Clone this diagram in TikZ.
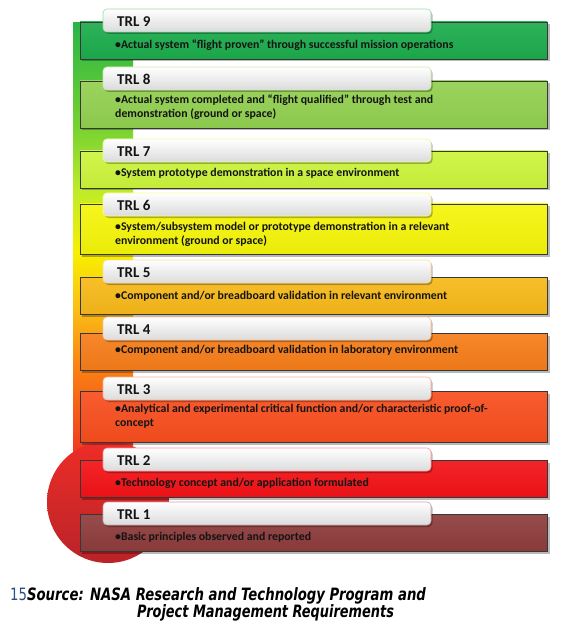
\documentclass[tikz,border=0pt]{standalone}
\usepackage{fontspec}
\setmainfont{Carlito}
\newfontfamily\srcfont{DejaVu Sans}
\definecolor{c9}{RGB}{28,172,76}
\definecolor{c8}{RGB}{146,208,80}
\definecolor{c7}{RGB}{204,245,60}
\definecolor{c6}{RGB}{245,245,10}
\definecolor{c5}{RGB}{247,185,25}
\definecolor{c4}{RGB}{246,125,25}
\definecolor{c3}{RGB}{248,78,30}
\definecolor{c2}{RGB}{243,18,22}
\definecolor{c1}{RGB}{142,60,60}
\definecolor{srcblue}{RGB}{40,80,130}
\definecolor{edgegray}{RGB}{55,55,55}
\pgfdeclareverticalshading{barshade}{100bp}{%
  color(0bp)=(rgb,255:red,230;green,30;blue,30);
  color(25bp)=(rgb,255:red,230;green,30;blue,30);
  color(31bp)=(rgb,255:red,240;green,65;blue,30);
  color(39bp)=(rgb,255:red,250;green,130;blue,20);
  color(45bp)=(rgb,255:red,250;green,190;blue,20);
  color(51bp)=(rgb,255:red,248;green,240;blue,0);
  color(57.5bp)=(rgb,255:red,190;green,235;blue,40);
  color(64bp)=(rgb,255:red,120;green,210;blue,50);
  color(75bp)=(rgb,255:red,40;green,180;blue,70);
  color(100bp)=(rgb,255:red,40;green,180;blue,70)}
\tikzset{
  mainrect/.style={draw=edgegray, line width=0.8pt},
  shadowrect/.style={fill=black, opacity=0.28},
  tabbox/.style={rounded corners=4pt, top color=white, bottom color=black!14, line width=0.6pt},
  lbl/.style={font=\fontsize{15}{16}\selectfont\bfseries, inner sep=0pt, anchor=base west, text=black!92},
  body/.style={font=\fontsize{11.8}{13}\selectfont\bfseries, inner sep=0pt, anchor=base west, text=black!92},
  src/.style={inner sep=0pt, anchor=base west}
}
\newcommand\levelbox[6]{%
  \fill[shadowrect] (82,{#3+2.5}) rectangle (550,{#4+2.5});
  \path[mainrect, top color=#5!92!white, bottom color=#5!96!black] (80,#3) rectangle (547,#4);
  \fill[shadowrect, rounded corners=4pt] (104.5,{#2+2}) rectangle (432.5,{#2+25});
  \path[tabbox, draw=#5!45!white] (103,#2) rectangle (431,{#2+23});
  \node[lbl] (lbl#1) at (117,{#2+17.5}) {#6};
}
\begin{document}
\begin{tikzpicture}[x=1pt,y=-1pt]
\useasboundingbox (0,0) rectangle (581,636);
% gradient bar and circle
\path[shading=barshade] (73,23) rectangle (133,500);
\path[top color={rgb,255:red,238;green,45;blue,40}, bottom color={rgb,255:red,185;green,35;blue,40}] (108,502) circle (61);
% levels
\levelbox{9}{9}{22}{59}{c9}{TRL 9}
\node[body] (t9) at (115,48.5) {•Actual system “flight proven” through successful mission operations};
\levelbox{8}{67}{81}{128}{c8}{TRL 8}
\node[body] (t8a) at (115,104) {•Actual system completed and “flight qualified” through test and};
\node[body] (t8b) at (115,117.5) {demonstration (ground or space)};
\levelbox{7}{139}{151}{188}{c7}{TRL 7}
\node[body] (t7) at (115,176.5) {•System prototype demonstration in a space environment};
\levelbox{6}{193}{204}{254}{c6}{TRL 6}
\node[body] (t6a) at (115,230) {•System/subsystem model or prototype demonstration in a relevant};
\node[body] (t6b) at (115,244) {environment (ground or space)};
\levelbox{5}{260}{277}{314}{c5}{TRL 5}
\node[body] (t5) at (115,299.5) {•Component and/or breadboard validation in relevant environment};
\levelbox{4}{317}{333}{370}{c4}{TRL 4}
\node[body] (t4) at (115,353.5) {•Component and/or breadboard validation in laboratory environment};
\levelbox{3}{377}{391}{442}{c3}{TRL 3}
\node[body] (t3a) at (115,412.5) {•Analytical and experimental critical function and/or characteristic proof-of-};
\node[body] (t3b) at (115,426) {concept};
\levelbox{2}{448}{460}{497}{c2}{TRL 2}
\node[body] (t2) at (115,486.5) {•Technology concept and/or application formulated};
\levelbox{1}{502}{514}{551}{c1}{TRL 1}
\node[body] (t1) at (115,540) {•Basic principles observed and reported};
% source
\node[src] (s1) at (10,600) {\scalebox{0.78}[1]{\srcfont\fontsize{17}{18}\selectfont\textcolor{srcblue}{15}\textbf{\textit{Source: NASA Research and Technology Program and}}}};
\node[src] (s2) at (137,617.5) {\scalebox{0.76}[1]{\srcfont\fontsize{17}{18}\selectfont\textbf{\textit{Project Management Requirements}}}};
\end{tikzpicture}
\end{document}
